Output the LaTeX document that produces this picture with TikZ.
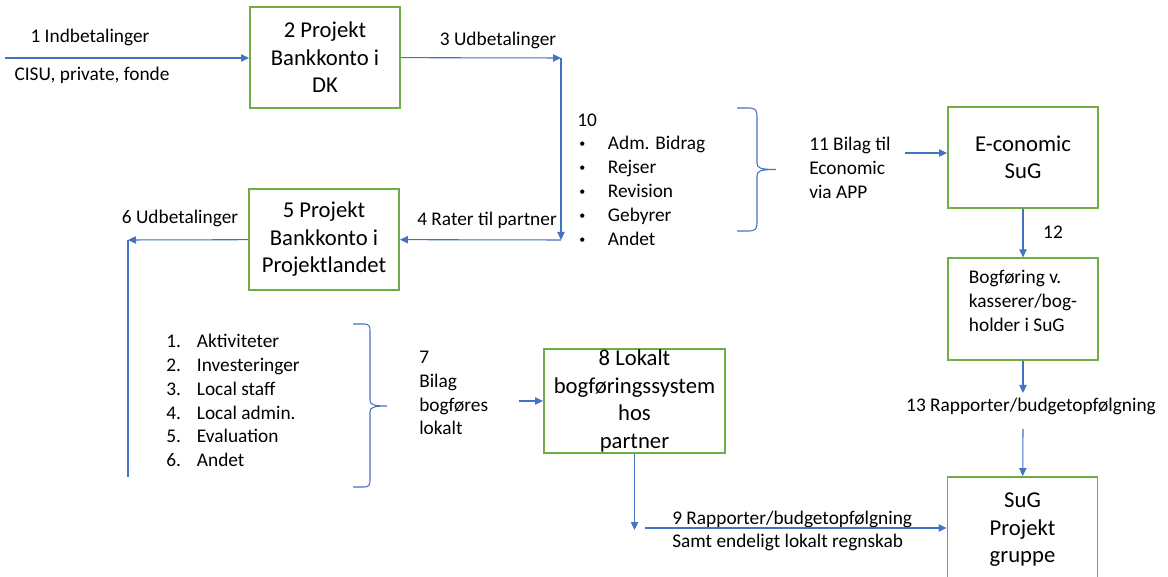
\documentclass[tikz,border=0pt]{standalone}
\usepackage{fontspec}
\setmainfont{Carlito}
\usetikzlibrary{arrows.meta}
\definecolor{flowblue}{HTML}{4472C4}
\definecolor{boxgreen}{HTML}{70AD47}
\newcommand{\itembox}[1]{\makebox[23pt][l]{#1}}
\newcommand{\dotmark}{\itembox{\hspace{1.5pt}\raisebox{1.6pt}{\fontsize{9}{9}\selectfont\textbullet}}}

\begin{document}
\begin{tikzpicture}[x=0.75pt,y=-0.75pt,
  box/.style={draw=boxgreen,line width=1.4pt,align=center,inner sep=1pt,
    minimum width=112.5pt,minimum height=76pt,font=\fontsize{17}{20.6}\selectfont},
  lbl/.style={font=\fontsize{14.5}{17.9}\selectfont,inner sep=0pt},
  flow/.style={draw=flowblue,line width=0.8pt,-{Triangle[length=6pt,width=5.5pt]}},
  wire/.style={draw=flowblue,line width=0.8pt}]
\useasboundingbox (0,0) rectangle (1168,577);
\clip (0,0) rectangle (1168,577);

% boxes
\node[box] (bank) at (325,57.5) {2 Projekt\\Bankkonto i\\DK};
\node[box] (bankp) at (324,239.5) {5 Projekt\\Bankkonto i\\Projektlandet};
\node[box,minimum width=135.75pt] (lokal) at (634.5,401) {8 Lokalt\\bogføringssystem\\hos\\partner};
\node[box] (econ) at (1023,157.5) {E-conomic\\SuG};
\node[box,align=left,font=\fontsize{14.5}{18}\selectfont] (bog) at (1023,309)
  {Bogføring v.\\kasserer/bog-\\holder i SuG\\[-6pt]~};
\node[box,minimum height=79.5pt] (sug) at (1022.5,530) {SuG\\Projekt\\gruppe};

% labels
\node[lbl] (inlbl) at (90,37) {1 Indbetalinger};
\node[lbl] (srclbl) at (92,75) {CISU, private, fonde};
\node[lbl] (udlbl) at (498,40) {3 Udbetalinger};
\node[lbl] (ratlbl) at (487,220) {4 Rater til partner};
\node[lbl] (ud6lbl) at (180,218) {6 Udbetalinger};
\node[lbl,align=left,anchor=west] (admlist) at (577,179.5)
  {10\\\dotmark Adm. Bidrag\\\dotmark Rejser\\
   \dotmark Revision\\\dotmark Gebyrer\\
   \dotmark Andet};
\node[lbl,align=left,anchor=west] (postlist) at (166,400.5)
  {\itembox{1.}Aktiviteter\\\itembox{2.}Investeringer\\
   \itembox{3.}Local staff\\\itembox{4.}Local admin.\\
   \itembox{5.}Evaluation\\\itembox{6.}Andet};
\node[lbl,align=left,anchor=west] (bilag) at (419,393) {7\\Bilag\\bogføres\\lokalt};
\node[lbl,align=left,anchor=west] (applbl) at (809,168) {11 Bilag til\\Economic\\via APP};
\node[lbl] (nr12) at (1053,232) {12};
\node[lbl] (rap13) at (1031,406) {13 Rapporter/budgetopfølgning};
\node[lbl,anchor=west] (rap9) at (672,519) {9 Rapporter/budgetopfølgning};
\node[lbl,anchor=west] (regn9) at (672,542) {Samt endeligt lokalt regnskab};

% free ends
\coordinate (in) at (5,58);
\coordinate (c3) at (561,58);
\coordinate (c4) at (561,240);
\coordinate (c6) at (128,240);
\coordinate (c6end) at (128,477);
\coordinate (c7) at (519,401);
\coordinate (c8) at (634.5,530);
\coordinate (c9) at (645,528);
\coordinate (c11) at (905,153);
\coordinate (c13a) at (1023,393);
\coordinate (c13b) at (1023,429);

% connectors
\draw[flow] (in) -- (in -| bank.west);
\draw[flow] (bank) -- (c3);
\draw[flow] (c3) -- (c4);
\draw[flow] (c4) -- (bankp);
\draw[flow] (bankp) -- (c6);
\draw[wire] (c6) -- (c6end);
\draw[flow] (c7) -- (c7 -| lokal.west);
\draw[flow] (lokal) -- (c8);
\draw[flow] (c9) -- (c9 -| sug.west);
\draw[flow] (c11) -- (c11 -| econ.west);
\draw[flow] (econ) -- (bog);
\draw[flow] (bog) -- (c13a);
\draw[flow] (c13b) -- (sug);

% braces
\draw[wire] (737,108) -- (749,108) .. controls (755,108) and (757,110) .. (757,116)
  -- (757,163) .. controls (757,168) and (760,169.5) .. (776,169.5)
  .. controls (760,169.5) and (757,171) .. (757,176)
  -- (757,223) .. controls (757,229) and (755,231) .. (749,231) -- (737,231);
\draw[wire] (353,324) -- (364,324) .. controls (369,324) and (370,326) .. (370,331)
  -- (370,400) .. controls (370,404.5) and (373,406) .. (387,406)
  .. controls (373,406) and (370,407.5) .. (370,412)
  -- (370,480) .. controls (370,485) and (369,487) .. (364,487) -- (353,487);
\end{tikzpicture}
\end{document}
